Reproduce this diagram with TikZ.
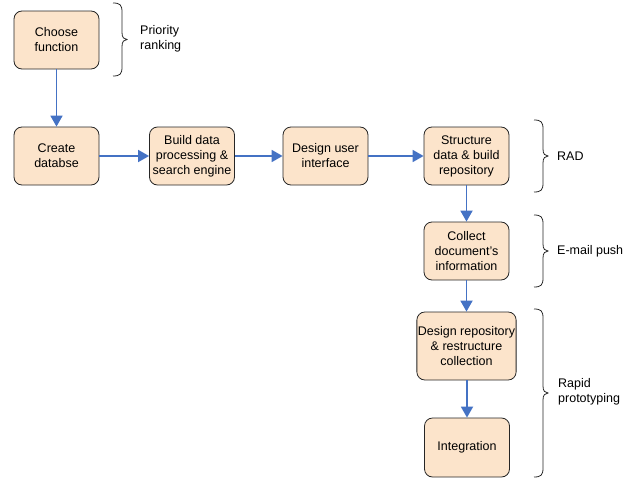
\documentclass[tikz,border=0pt]{standalone}
\usepackage{fontspec}
\setmainfont{Liberation Sans}
\usetikzlibrary{arrows.meta}
\definecolor{boxfill}{HTML}{FCE4CB}
\definecolor{arrowblue}{HTML}{4472C4}
\tikzset{
  stepbox/.style={draw=black!85, line width=0.8pt, fill=boxfill, rounded corners=8pt,
    minimum width=85pt, minimum height=58pt, align=center, inner sep=1pt,
    font=\fontsize{12.5pt}{15pt}\selectfont},
  flow/.style={draw=arrowblue, line width=1.8pt, -{Triangle[length=11pt,width=12pt]}},
  bracestyle/.style={draw=black!85, line width=0.8pt},
  sidelabel/.style={anchor=west, align=left, inner sep=0pt,
    font=\fontsize{12.5pt}{15pt}\selectfont}
}
% custom curly brace: x, top y, bottom y
\newcommand\mycurly[3]{%
  \pgfmathsetmacro\bm{(#2+#3)/2}%
  \draw[bracestyle] (#1,#2) .. controls (#1+7,#2) and (#1+9,#2+2) .. (#1+9,#2+9)
    -- (#1+9,\bm-7) .. controls (#1+9,\bm-2) and (#1+11,\bm) .. (#1+14,\bm)
    .. controls (#1+11,\bm) and (#1+9,\bm+2) .. (#1+9,\bm+7)
    -- (#1+9,#3-9) .. controls (#1+9,#3-2) and (#1+7,#3) .. (#1,#3);}
\begin{document}
\begin{tikzpicture}[x=1pt,y=-1pt]
\useasboundingbox (0,0) rectangle (637,479);
\node[stepbox] (choose) at (56.5,40) {Choose\\function};
\node[stepbox] (create) at (56.5,156) {Create\\databse};
\node[stepbox] (build) at (192,156) {Build data\\processing \&\\search engine};
\node[stepbox] (design) at (325.5,156) {Design user\\interface};
\node[stepbox] (struct) at (466.5,156) {Structure\\data \& build\\repository};
\node[stepbox] (collect) at (466.5,251) {Collect\\document's\\information};
\node[stepbox, minimum width=99pt, minimum height=68pt] (repo) at (466.5,346) {Design repository\\\& restructure\\collection};
\node[stepbox, minimum height=59pt] (integ) at (467,447.5) {Integration};

\draw[flow] (choose) -- (create);
\draw[flow] (create) -- (build);
\draw[flow] (build) -- (design);
\draw[flow] (design) -- (struct);
\draw[flow] (struct) -- (collect);
\draw[flow] (collect) -- (repo);
\draw[flow] (repo.south -| integ.north) -- (integ.north);

\mycurly{113}{3}{76}
\node[sidelabel] (prl) at (140,39) {Priority\\ranking};

\mycurly{534}{120}{192}
\node[sidelabel] (ral) at (557,156) {RAD};

\mycurly{534}{215}{287}
\node[sidelabel] (eml) at (557,251) {E-mail push};

\mycurly{534}{309}{477}
\node[sidelabel] (rpl) at (558,392) {Rapid\\prototyping};
\end{tikzpicture}
\end{document}
